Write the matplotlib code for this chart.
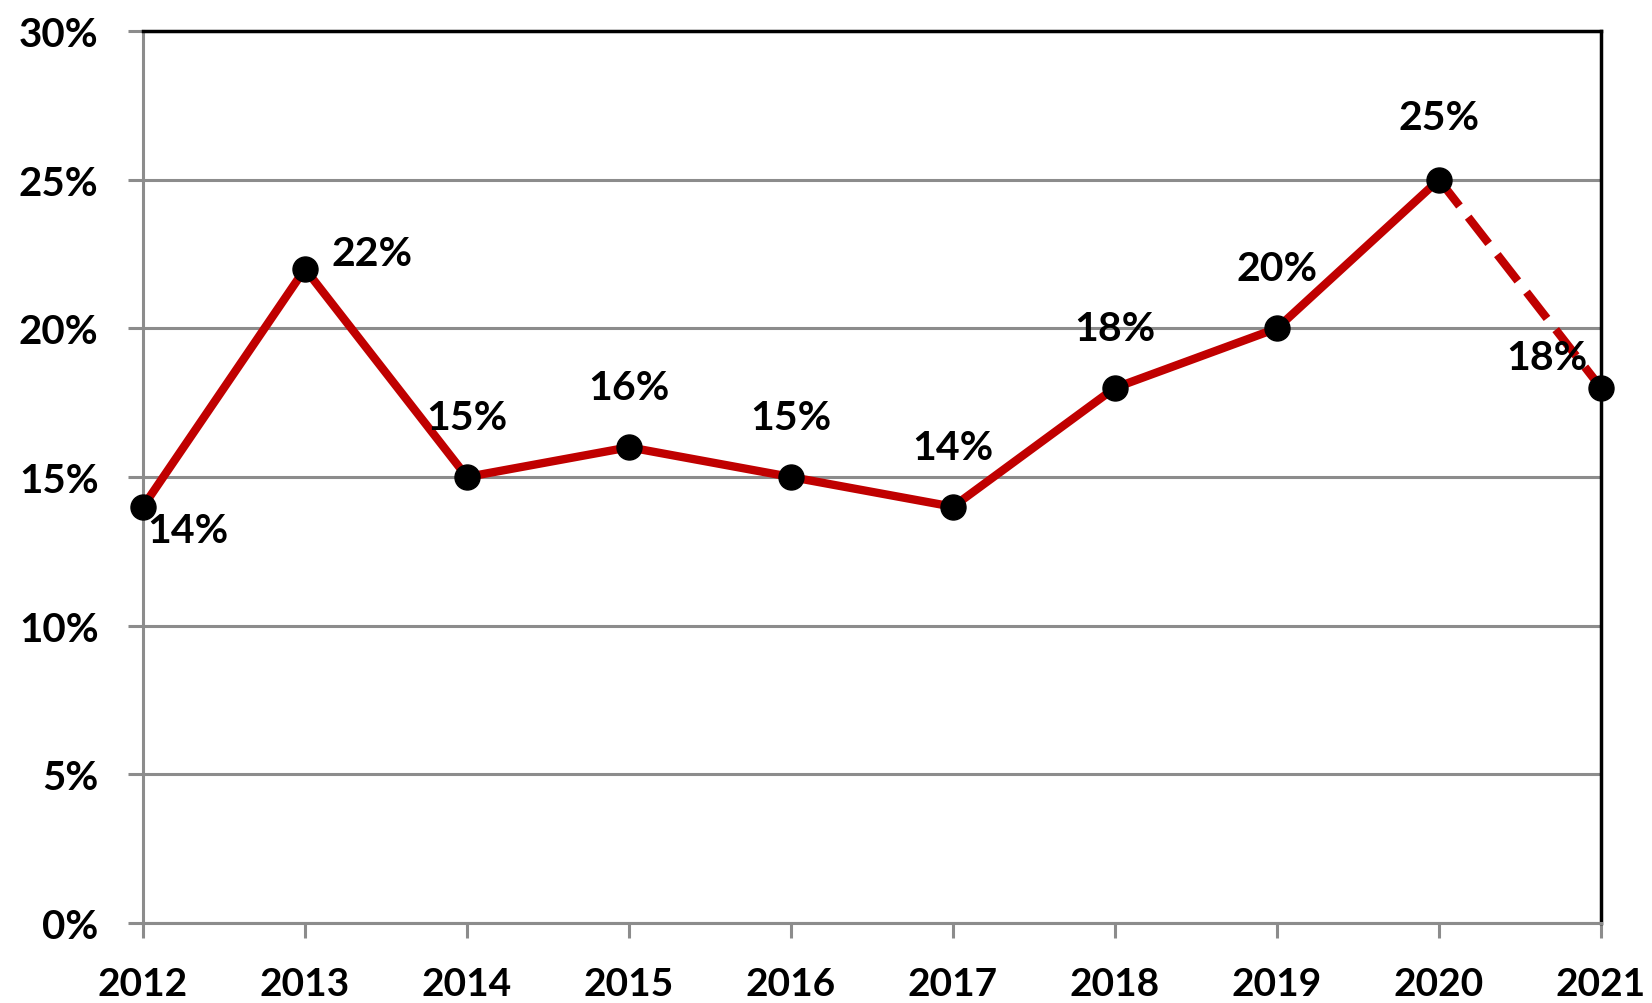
import matplotlib
matplotlib.use("Agg")
import matplotlib.pyplot as plt
from matplotlib.ticker import FuncFormatter

years = [2012, 2013, 2014, 2015, 2016, 2017, 2018, 2019, 2020, 2021]
values = [14, 22, 15, 16, 15, 14, 18, 20, 25, 18]
labels = [f"{v}%" for v in values]
y_ticks = [0, 5, 10, 15, 20, 25, 30]

RED = "#C00000"
GRID = "#8C8C8C"

plt.rcParams["font.family"] = ["Lato", "DejaVu Sans"]
plt.rcParams["font.weight"] = "bold"

fig = plt.figure(figsize=(16.52, 10.04), dpi=100)
ax = fig.add_axes([143 / 1652, 80 / 1004, (1601 - 143) / 1652, (924 - 32) / 1004])

# solid part up to 2020, dashed last segment
ax.plot(years[:-1], values[:-1], color=RED, lw=6, solid_capstyle="round",
        solid_joinstyle="round", zorder=3, clip_on=False)
ax.plot(years[-2:], values[-2:], color=RED, lw=6, linestyle=(0, (4, 1.7)),
        zorder=3, clip_on=False)
ax.plot(years, values, linestyle="none", marker="o", ms=18, color="black",
        zorder=4, clip_on=False)

# label offsets in points (dx, dy)
offsets = [(32, -17), (48, 11), (0, 43), (0, 43), (0, 43), (0, 43),
           (0, 43), (0, 43), (0, 45), (-39, 22)]
for x, y, lab, (dx, dy) in zip(years, values, labels, offsets):
    ax.annotate(lab, (x, y), xytext=(dx, dy), textcoords="offset points",
                ha="center", va="center", fontsize=29.5, fontweight="bold",
                color="black", zorder=5)

ax.set_xlim(2012, 2021)
ax.set_ylim(0, 30)
ax.set_xticks(years)
ax.set_yticks(y_ticks)
ax.yaxis.set_major_formatter(FuncFormatter(lambda v, _: f"{v:.0f}%"))

ax.grid(True, axis="y", color=GRID, lw=2.2, zorder=1)
ax.set_axisbelow(True)

for side in ("left", "bottom"):
    ax.spines[side].set_color(GRID)
    ax.spines[side].set_linewidth(2.2)
for side in ("top", "right"):
    ax.spines[side].set_color("black")
    ax.spines[side].set_linewidth(2.5)

ax.tick_params(axis="both", direction="out", length=11, width=2.2, color=GRID,
               labelsize=28, labelcolor="black")
ax.tick_params(axis="y", pad=21, labelsize=29)
ax.tick_params(axis="x", pad=20)
for t in ax.get_xticklabels() + ax.get_yticklabels():
    t.set_fontweight("bold")

fig.savefig("out.png", dpi=100)
